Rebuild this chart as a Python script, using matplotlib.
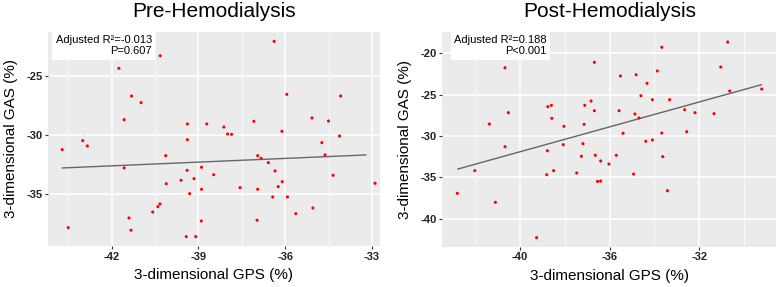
import numpy as np
import matplotlib
matplotlib.use("Agg")
import matplotlib.pyplot as plt

plt.rcParams['font.family'] = ['Liberation Sans', 'DejaVu Sans']

# Pre-hemodialysis: GPS (x) vs GAS (y)
pre_gps = [-36.38, -40.32, -41.75, -41.31, -40.98, -35.94, -34.08, -41.57, -39.38, -38.71,
           -38.12, -37.99, -37.85, -37.08, -36.11, -35.07, -34.50, -34.12, -39.38, -43.00,
           -42.84, -34.73, -43.71, -40.13, -36.95, -36.83, -34.62, -36.58, -41.57, -38.89,
           -39.39, -36.35, -38.47, -34.34, -39.15, -39.60, -40.11, -36.10, -36.24, -32.89,
           -37.56, -38.89, -36.95, -39.30, -36.43, -35.92, -35.04, -35.63, -40.33, -40.40,
           -40.58, -41.40, -41.33, -43.50, -38.90, -36.97, -39.42, -39.09]
pre_gas = [-22.07, -23.29, -24.35, -26.69, -27.25, -26.55, -26.69, -28.69, -29.05, -29.05,
           -29.31, -29.90, -29.93, -28.83, -29.67, -28.55, -28.80, -30.07, -30.38, -30.46,
           -30.91, -30.63, -31.22, -31.73, -31.73, -31.95, -31.67, -32.32, -32.77, -32.71,
           -32.97, -33.02, -33.34, -33.39, -33.67, -33.81, -34.10, -33.93, -34.35, -34.06,
           -34.43, -34.57, -34.57, -34.94, -35.22, -35.22, -36.15, -36.63, -35.81, -36.04,
           -36.49, -36.99, -38.03, -37.81, -37.25, -37.19, -38.57, -38.57]
pre_fit_x = [-43.70, -33.21]
pre_fit_y = [-32.77, -31.67]
pre_stats = "Adjusted R\u00b2=-0.013\nP=0.607"

# Post-hemodialysis
post_gps = [-30.73, -33.67, -36.68, -40.67, -31.04, -33.87, -35.52, -34.82, -34.33, -29.21,
            -30.64, -34.60, -34.09, -33.32, -36.83, -37.11, -38.60, -38.76, -36.68, -35.58,
            -32.65, -32.19, -31.34, -40.52, -34.87, -34.69, -38.58, -41.37, -37.14, -38.04,
            -35.40, -33.67, -32.56, -34.39, -34.09, -38.07, -37.19, -40.67, -38.78, -37.26,
            -36.64, -35.70, -33.63, -36.40, -36.03, -42.02, -38.50, -37.47, -38.81, -34.93,
            -36.54, -36.40, -33.42, -42.80, -41.10, -39.26]
post_gas = [-18.63, -19.27, -21.09, -21.74, -21.66, -22.14, -22.74, -22.59, -23.63, -24.32,
            -24.56, -25.13, -25.61, -25.61, -25.77, -26.29, -26.29, -26.45, -26.94, -26.94,
            -26.82, -27.18, -27.30, -27.18, -27.34, -27.82, -27.86, -28.55, -28.59, -28.83,
            -29.67, -29.64, -29.48, -30.64, -30.48, -31.05, -30.93, -31.29, -31.78, -32.45,
            -32.33, -32.33, -32.50, -33.02, -33.39, -34.19, -34.19, -34.47, -34.68, -34.60,
            -35.50, -35.45, -36.61, -36.93, -38.02, -42.30]
post_fit_x = [-42.77, -29.23]
post_fit_y = [-33.99, -23.80]
post_stats = "Adjusted R\u00b2=0.188\nP<0.001"

fig = plt.figure(figsize=(7.78, 2.87), dpi=100)


def style_panel(ax, xlim, ylim, xmajor, ymajor):
    ax.set_facecolor('#EBEBEB')
    ax.set_xlim(xlim)
    ax.set_ylim(ylim)
    ax.set_xticks(xmajor)
    ax.set_yticks(ymajor)
    xs = xmajor[1] - xmajor[0]
    ys = ymajor[1] - ymajor[0]
    ax.set_xticks(np.arange(xmajor[0] - xs / 2, xlim[1], xs), minor=True)
    ax.set_yticks(np.arange(ymajor[0] - ys / 2, ylim[0], -ys), minor=True)
    ax.grid(which='major', color='white', linewidth=1.1)
    ax.grid(which='minor', color='white', linewidth=0.5)
    ax.set_axisbelow(True)
    for s in ax.spines.values():
        s.set_visible(False)
    ax.tick_params(which='major', length=2, color='#333333', pad=2)
    ax.tick_params(which='minor', length=0)
    ax.set_xticklabels([f"{v:g}" for v in xmajor], fontsize=8, fontweight='bold',
                       color='#222222')
    ax.set_yticklabels([f"{v:g}" for v in ymajor], fontsize=8, fontweight='bold',
                       color='#222222')


panels = [
    ([0.0617, 0.143, 0.4267, 0.7456], pre_gps, pre_gas, pre_fit_x, pre_fit_y, pre_stats,
     "Pre-Hemodialysis", (-44.2, -32.72), (-39.36, -21.28), [-42, -39, -36, -33], [-25, -30, -35]),
    ([0.5685, 0.1404, 0.4293, 0.749], post_gps, post_gas, post_fit_x, post_fit_y, post_stats,
     "Post-Hemodialysis", (-43.47, -28.56), (-43.39, -17.39), [-40, -36, -32], [-20, -25, -30, -35, -40]),
]

for rect, gx, gy, fx, fy, stats, title, xlim, ylim, xt, yt in panels:
    ax = fig.add_axes(rect)
    style_panel(ax, xlim, ylim, xt, yt)
    ax.plot(fx, fy, color='#666666', linewidth=1.0, zorder=2)
    ax.scatter(gx, gy, s=5, color='red', edgecolors='none', zorder=3)
    ax.text(0.313, 0.985, stats, transform=ax.transAxes, ha='right', va='top',
            fontsize=8, linespacing=1.15, zorder=5,
            bbox=dict(facecolor='white', edgecolor='none', pad=2.5))
    ax.set_title(title, fontsize=15, pad=10.5)
    ax.set_xlabel("3-dimensional GPS (%)", fontsize=11, labelpad=5)
    ax.set_ylabel("3-dimensional GAS (%)", fontsize=11, labelpad=6)

fig.savefig("out.png", dpi=100)
